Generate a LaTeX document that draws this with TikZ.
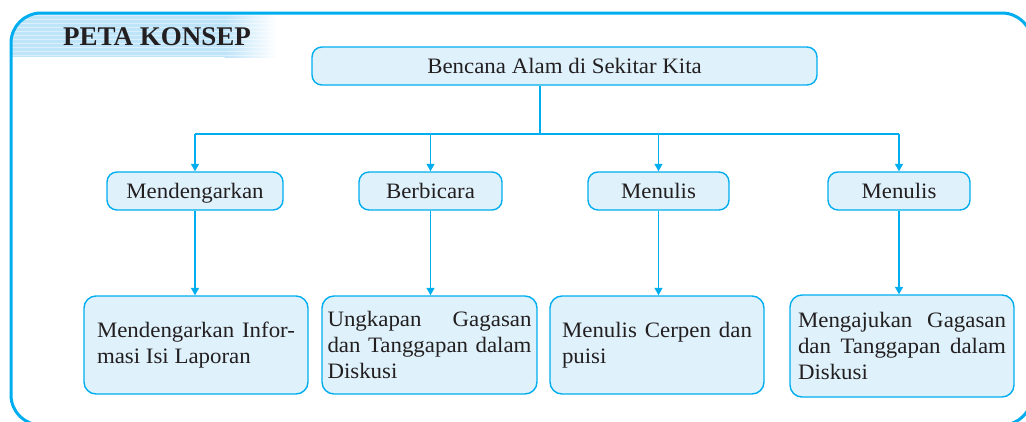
\documentclass[tikz,border=0pt]{standalone}
\usepackage{fontspec}
\setmainfont{Liberation Serif}
\newfontfamily\petafont{Liberation Serif}[FakeStretch=1.04]
\usepackage{tikz}
\usetikzlibrary{arrows.meta}

\definecolor{petacyan}{RGB}{0,174,239}
\definecolor{petafill}{RGB}{223,242,252}
\definecolor{petahead}{RGB}{190,228,249}
\definecolor{petatext}{RGB}{35,31,32}
\tolerance=9999
\hbadness=10000
\lefthyphenmin=62

\begin{document}
\begin{tikzpicture}[x=1pt,y=-1pt,
    topik/.style={draw=petacyan, fill=petafill, line width=1.4pt, rounded corners=10pt,
        minimum height=38pt, inner sep=0pt, text height=14.6pt, text depth=0pt,
        text=petatext, font=\petafont\fontsize{22}{26}\selectfont},
    materi/.style={draw=petacyan, fill=petafill, line width=1.4pt, rounded corners=12pt,
        minimum height=98pt, inner sep=0pt, align=justify,
        text=petatext, font=\petafont\fontsize{22}{26}\selectfont},
    garis/.style={draw=petacyan, line width=1.4pt},
    panah/.style={garis, -{Triangle[width=8pt,length=7.5pt]}}]
\useasboundingbox (0,0) rectangle (1026,421);

\begin{scope}
\clip[rounded corners=30pt] (11,13) rectangle (1032,425);
\fill[petahead] (11,13) rectangle (225,57);
\shade[left color=petahead, right color=white] (224.5,13) rectangle (277,57);
\foreach \y in {15,19,...,55}
    \draw[white, opacity=0.45, line width=0.8pt] (11,\y) -- (277,\y);
\end{scope}
\draw[petacyan, line width=3pt, rounded corners=30pt] (11,13) rectangle (1032,425);
\node[anchor=base, text=petatext, font=\fontsize{27}{30}\selectfont\bfseries] (judul) at (157,45) {PETA KONSEP};

\node[topik, minimum width=505pt] (tema) at (564.5,66) {Bencana Alam di Sekitar Kita};

\node[topik, minimum width=176pt] (dengar) at (195,191) {Mendengarkan};
\node[topik, minimum width=143pt] (bicara) at (430.5,191) {Berbicara};
\node[topik, minimum width=141pt] (tulisa) at (658.5,191) {Menulis};
\node[topik, minimum width=142pt] (tulisb) at (899,191) {Menulis};

\node[materi, minimum width=224pt, text width=198pt] (laporan) at (196,345)
    {Mendengarkan Infor\-masi Isi Laporan};
\node[materi, minimum width=215pt, text width=204pt] (diskusi) at (429.5,345)
    {Ungkapan Gagasan dan Tanggapan dalam Diskusi};
\node[materi, minimum width=214pt, text width=190pt] (cerpen) at (657,345)
    {Menulis Cerpen dan puisi};
\node[materi, minimum width=224pt, minimum height=102pt, text width=208pt] (ajukan) at (902,346)
    {Mengajukan Gagasan dan Tanggapan dalam Diskusi};

\coordinate (cabang) at (540,134);
\draw[garis] (tema.south -| cabang) -- (cabang);
\draw[garis] (cabang -| dengar) -- (cabang -| tulisb);
\foreach \n in {dengar,bicara,tulisa,tulisb}
    \draw[panah] (cabang -| \n) -- (\n.north);

\draw[panah] (dengar.south) -- (dengar.south |- laporan.north);
\draw[panah] (bicara.south) -- (bicara.south |- diskusi.north);
\draw[panah] (tulisa.south) -- (tulisa.south |- cerpen.north);
\draw[panah] (tulisb.south) -- (tulisb.south |- ajukan.north);
\end{tikzpicture}
\end{document}
